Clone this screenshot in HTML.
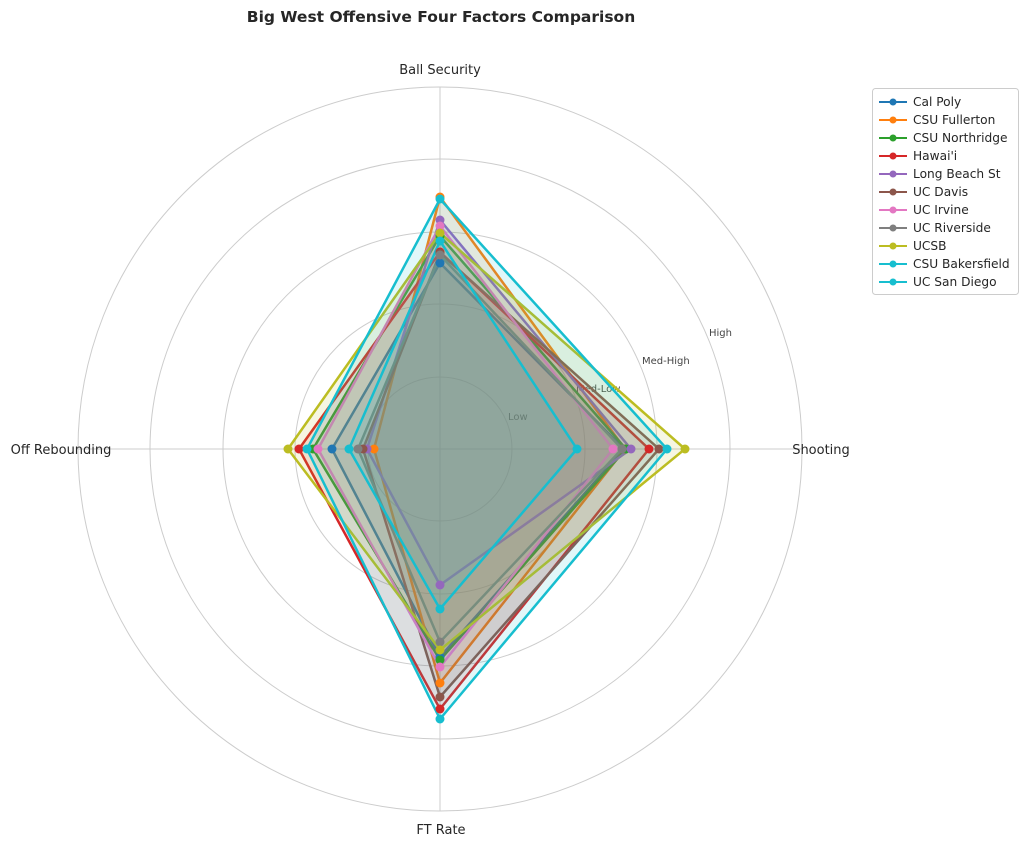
<!DOCTYPE html>
<html><head><style>body{margin:0;background:#fff;font-family:"DejaVu Sans","Liberation Sans",sans-serif}</style></head><body>
<svg width="1024" height="845" xmlns="http://www.w3.org/2000/svg" font-family="DejaVu Sans, Liberation Sans, sans-serif">
<rect width="1024" height="845" fill="#fff"/>
<text x="441" y="22" text-anchor="middle" font-size="15.5" font-weight="bold" fill="#262626">Big West Offensive Four Factors Comparison</text>
<g fill="none" stroke="#cccccc" stroke-width="1">
<circle cx="440" cy="449" r="72"/><circle cx="440" cy="449" r="145"/><circle cx="440" cy="449" r="217"/><circle cx="440" cy="449" r="290"/><circle cx="440" cy="449" r="362"/>
<line x1="440" y1="449" x2="440" y2="87"/><line x1="440" y1="449" x2="802" y2="449"/><line x1="440" y1="449" x2="440" y2="811"/><line x1="440" y1="449" x2="78" y2="449"/>
</g>
<g font-size="10" fill="#444"><text x="508" y="420">Low</text><text x="576" y="392">Med-Low</text><text x="642" y="364">Med-High</text><text x="709" y="336">High</text></g>
<g font-size="13" fill="#262626" text-anchor="middle"><text x="440" y="74">Ball Security</text><text x="821" y="454">Shooting</text><text x="441" y="834">FT Rate</text><text x="61" y="454">Off Rebounding</text></g>
<g stroke-width="2.5">
<polygon points="440,263 624,449 440,657 332,449" fill="#1f77b4" fill-opacity="0.13" stroke="#1f77b4"/>
<polygon points="440,197 625,449 440,683 374,449" fill="#ff7f0e" fill-opacity="0.13" stroke="#ff7f0e"/>
<polygon points="440,236 626,449 440,660 313,449" fill="#2ca02c" fill-opacity="0.13" stroke="#2ca02c"/>
<polygon points="440,252 649,449 440,709 299,449" fill="#d62728" fill-opacity="0.13" stroke="#d62728"/>
<polygon points="440,220 631,449 440,585 367,449" fill="#9467bd" fill-opacity="0.13" stroke="#9467bd"/>
<polygon points="440,253 659,449 440,697 363,449" fill="#8c564b" fill-opacity="0.13" stroke="#8c564b"/>
<polygon points="440,226 613,449 440,667 318,449" fill="#e377c2" fill-opacity="0.13" stroke="#e377c2"/>
<polygon points="440,255 622,449 440,642 358,449" fill="#7f7f7f" fill-opacity="0.13" stroke="#7f7f7f"/>
<polygon points="440,233 685,449 440,650 288,449" fill="#bcbd22" fill-opacity="0.13" stroke="#bcbd22"/>
<polygon points="440,241 577,449 440,609 349,449" fill="#17becf" fill-opacity="0.13" stroke="#17becf"/>
<polygon points="440,199 667,449 440,719 307,449" fill="#17becf" fill-opacity="0.13" stroke="#17becf"/>
</g>
<g>
<g fill="#1f77b4"><circle cx="440" cy="263" r="4.5"/><circle cx="624" cy="449" r="4.5"/><circle cx="440" cy="657" r="4.5"/><circle cx="332" cy="449" r="4.5"/></g>
<g fill="#ff7f0e"><circle cx="440" cy="197" r="4.5"/><circle cx="625" cy="449" r="4.5"/><circle cx="440" cy="683" r="4.5"/><circle cx="374" cy="449" r="4.5"/></g>
<g fill="#2ca02c"><circle cx="440" cy="236" r="4.5"/><circle cx="626" cy="449" r="4.5"/><circle cx="440" cy="660" r="4.5"/><circle cx="313" cy="449" r="4.5"/></g>
<g fill="#d62728"><circle cx="440" cy="252" r="4.5"/><circle cx="649" cy="449" r="4.5"/><circle cx="440" cy="709" r="4.5"/><circle cx="299" cy="449" r="4.5"/></g>
<g fill="#9467bd"><circle cx="440" cy="220" r="4.5"/><circle cx="631" cy="449" r="4.5"/><circle cx="440" cy="585" r="4.5"/><circle cx="367" cy="449" r="4.5"/></g>
<g fill="#8c564b"><circle cx="440" cy="253" r="4.5"/><circle cx="659" cy="449" r="4.5"/><circle cx="440" cy="697" r="4.5"/><circle cx="363" cy="449" r="4.5"/></g>
<g fill="#e377c2"><circle cx="440" cy="226" r="4.5"/><circle cx="613" cy="449" r="4.5"/><circle cx="440" cy="667" r="4.5"/><circle cx="318" cy="449" r="4.5"/></g>
<g fill="#7f7f7f"><circle cx="440" cy="255" r="4.5"/><circle cx="622" cy="449" r="4.5"/><circle cx="440" cy="642" r="4.5"/><circle cx="358" cy="449" r="4.5"/></g>
<g fill="#bcbd22"><circle cx="440" cy="233" r="4.5"/><circle cx="685" cy="449" r="4.5"/><circle cx="440" cy="650" r="4.5"/><circle cx="288" cy="449" r="4.5"/></g>
<g fill="#17becf"><circle cx="440" cy="241" r="4.5"/><circle cx="577" cy="449" r="4.5"/><circle cx="440" cy="609" r="4.5"/><circle cx="349" cy="449" r="4.5"/><circle cx="440" cy="199" r="4.5"/><circle cx="667" cy="449" r="4.5"/><circle cx="440" cy="719" r="4.5"/><circle cx="307" cy="449" r="4.5"/></g>
</g>
<rect x="872.5" y="88.5" width="146" height="206" rx="3" fill="#fff" stroke="#ccc"/>
<g font-size="12.2" fill="#262626">
<g transform="translate(0,102)"><line x1="879" x2="907" stroke="#1f77b4" stroke-width="2"/><circle cx="893" r="3.5" fill="#1f77b4"/><text x="913" y="4">Cal Poly</text></g>
<g transform="translate(0,120)"><line x1="879" x2="907" stroke="#ff7f0e" stroke-width="2"/><circle cx="893" r="3.5" fill="#ff7f0e"/><text x="913" y="4">CSU Fullerton</text></g>
<g transform="translate(0,138)"><line x1="879" x2="907" stroke="#2ca02c" stroke-width="2"/><circle cx="893" r="3.5" fill="#2ca02c"/><text x="913" y="4">CSU Northridge</text></g>
<g transform="translate(0,156)"><line x1="879" x2="907" stroke="#d62728" stroke-width="2"/><circle cx="893" r="3.5" fill="#d62728"/><text x="913" y="4">Hawai'i</text></g>
<g transform="translate(0,174)"><line x1="879" x2="907" stroke="#9467bd" stroke-width="2"/><circle cx="893" r="3.5" fill="#9467bd"/><text x="913" y="4">Long Beach St</text></g>
<g transform="translate(0,192)"><line x1="879" x2="907" stroke="#8c564b" stroke-width="2"/><circle cx="893" r="3.5" fill="#8c564b"/><text x="913" y="4">UC Davis</text></g>
<g transform="translate(0,210)"><line x1="879" x2="907" stroke="#e377c2" stroke-width="2"/><circle cx="893" r="3.5" fill="#e377c2"/><text x="913" y="4">UC Irvine</text></g>
<g transform="translate(0,228)"><line x1="879" x2="907" stroke="#7f7f7f" stroke-width="2"/><circle cx="893" r="3.5" fill="#7f7f7f"/><text x="913" y="4">UC Riverside</text></g>
<g transform="translate(0,246)"><line x1="879" x2="907" stroke="#bcbd22" stroke-width="2"/><circle cx="893" r="3.5" fill="#bcbd22"/><text x="913" y="4">UCSB</text></g>
<g transform="translate(0,264)"><line x1="879" x2="907" stroke="#17becf" stroke-width="2"/><circle cx="893" r="3.5" fill="#17becf"/><text x="913" y="4">CSU Bakersfield</text></g>
<g transform="translate(0,282)"><line x1="879" x2="907" stroke="#17becf" stroke-width="2"/><circle cx="893" r="3.5" fill="#17becf"/><text x="913" y="4">UC San Diego</text></g>
</g>
</svg>
</body></html>
